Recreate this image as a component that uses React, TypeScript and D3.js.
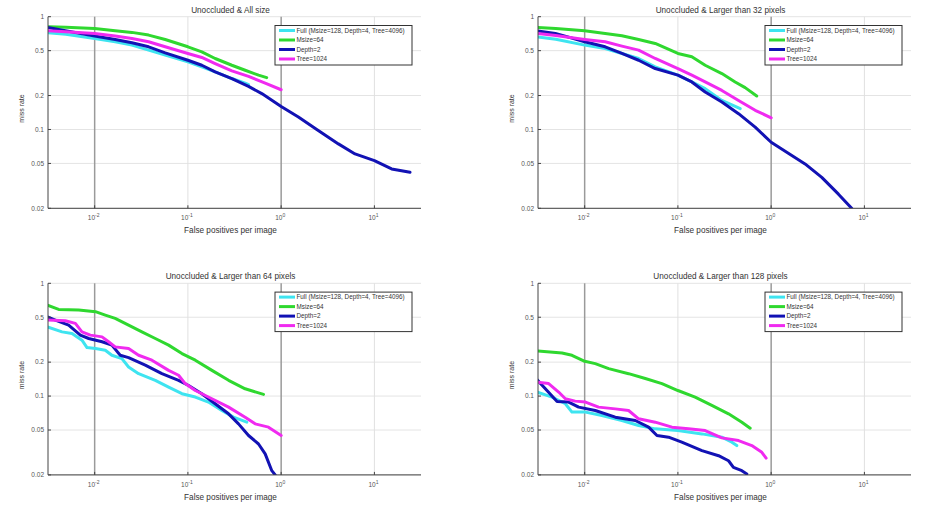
import React from "react";
import * as d3 from "d3";

type Pt = [number, number];

const TITLES = [
  "Unoccluded & All size",
  "Unoccluded & Larger than 32 pixels",
  "Unoccluded & Larger than 64 pixels",
  "Unoccluded & Larger than 128 pixels",
];
const SERIES_NAMES = ["Full (Msize=128, Depth=4, Tree=4096)", "Msize=64", "Depth=2", "Tree=1024"];
const SERIES_COLORS = ["#3ee4f0", "#2fd82f", "#1212b4", "#f02af0"];
const X_TICKS = [0.01, 0.1, 1, 10];
const X_TICK_EXPONENTS = ["-2", "-1", "0", "1"];
const Y_TICKS = [1, 0.5, 0.2, 0.1, 0.05, 0.02];
const Y_TICK_LABELS = ["1", "0.5", "0.2", "0.1", "0.05", "0.02"];
const X_DOMAIN = [0.00316, 31.6];
const Y_DOMAIN = [0.02, 1];
const X_LABEL = "False positives per image";
const Y_LABEL = "miss rate";

// Panel 1: Unoccluded & All size
const full_all: Pt[] = [[0.00308, 0.721], [0.0049, 0.70], [0.01, 0.641], [0.0166, 0.599], [0.0251, 0.56], [0.0379, 0.505], [0.0571, 0.456], [0.1, 0.398], [0.141, 0.359], [0.196, 0.324], [0.296, 0.283], [0.411, 0.258], [0.447, 0.25]];
const msize_all: Pt[] = [[0.00308, 0.815], [0.0049, 0.805], [0.01, 0.787], [0.0166, 0.75], [0.0251, 0.726], [0.0379, 0.687], [0.0571, 0.628], [0.1, 0.541], [0.141, 0.488], [0.196, 0.426], [0.296, 0.371], [0.411, 0.335], [0.572, 0.303], [0.70, 0.288]];
const depth_all: Pt[] = [[0.00308, 0.804], [0.00485, 0.75], [0.01, 0.673], [0.0166, 0.628], [0.0251, 0.587], [0.0379, 0.541], [0.0571, 0.478], [0.1, 0.411], [0.141, 0.371], [0.196, 0.324], [0.296, 0.283], [0.447, 0.241], [0.62, 0.208], [1.0, 0.160], [1.53, 0.129], [2.41, 0.1], [4.11, 0.0745], [6.2, 0.0607], [10, 0.053], [15.3, 0.0447], [24.1, 0.0417]];
const tree_all: Pt[] = [[0.00308, 0.75], [0.0049, 0.735], [0.01, 0.711], [0.0166, 0.673], [0.0251, 0.641], [0.0379, 0.599], [0.0571, 0.541], [0.1, 0.472], [0.141, 0.435], [0.196, 0.384], [0.296, 0.331], [0.447, 0.296], [0.674, 0.258], [1.0, 0.225]];

// Panel 2: Unoccluded & Larger than 32 pixels
const full_32: Pt[] = [[0.00308, 0.664], [0.0049, 0.63], [0.01, 0.56], [0.0166, 0.523], [0.0251, 0.472], [0.0379, 0.426], [0.0571, 0.359], [0.1, 0.303], [0.141, 0.264], [0.196, 0.23], [0.296, 0.181], [0.466, 0.153]];
const msize_32: Pt[] = [[0.00308, 0.804], [0.0049, 0.785], [0.01, 0.75], [0.0166, 0.711], [0.0251, 0.677], [0.0379, 0.628], [0.0571, 0.579], [0.1, 0.472], [0.141, 0.441], [0.196, 0.371], [0.296, 0.313], [0.411, 0.264], [0.526, 0.235], [0.70, 0.198]];
const depth_32: Pt[] = [[0.00308, 0.75], [0.00485, 0.711], [0.01, 0.599], [0.0166, 0.541], [0.0251, 0.472], [0.0379, 0.411], [0.0571, 0.347], [0.1, 0.303], [0.141, 0.264], [0.196, 0.215], [0.296, 0.175], [0.447, 0.138], [0.674, 0.105], [1.0, 0.077], [2.31, 0.0495], [3.49, 0.0376], [5.27, 0.0267], [7.3, 0.02]];
const tree_32: Pt[] = [[0.00308, 0.711], [0.0049, 0.68], [0.01, 0.628], [0.0166, 0.599], [0.0251, 0.548], [0.0379, 0.505], [0.0571, 0.426], [0.1, 0.347], [0.141, 0.303], [0.196, 0.264], [0.296, 0.222], [0.447, 0.181], [0.674, 0.148], [1.0, 0.127]];

// Panel 3: Unoccluded & Larger than 64 pixels
const full_64: Pt[] = [[0.00308, 0.411], [0.00447, 0.371], [0.00572, 0.359], [0.00731, 0.313], [0.00828, 0.269], [0.0102, 0.264], [0.013, 0.255], [0.0153, 0.23], [0.0196, 0.215], [0.0231, 0.181], [0.0296, 0.158], [0.0447, 0.138], [0.0621, 0.12], [0.0863, 0.105], [0.12, 0.098], [0.166, 0.0885], [0.231, 0.0745], [0.308, 0.065], [0.428, 0.0587]];
const msize_64: Pt[] = [[0.00308, 0.641], [0.00411, 0.587], [0.00674, 0.579], [0.0102, 0.56], [0.013, 0.523], [0.0166, 0.488], [0.0231, 0.426], [0.0321, 0.371], [0.0447, 0.324], [0.0621, 0.283], [0.0863, 0.238], [0.12, 0.208], [0.181, 0.169], [0.273, 0.138], [0.411, 0.116], [0.647, 0.1035]];
const depth_64: Pt[] = [[0.00308, 0.505], [0.00379, 0.472], [0.00526, 0.426], [0.00702, 0.347], [0.00863, 0.324], [0.012, 0.303], [0.0153, 0.283], [0.0188, 0.23], [0.0231, 0.219], [0.0349, 0.188], [0.0526, 0.158], [0.0794, 0.138], [0.1017, 0.124], [0.141, 0.105], [0.196, 0.0855], [0.273, 0.0696], [0.349, 0.0567], [0.447, 0.0447], [0.572, 0.0376], [0.674, 0.0307], [0.794, 0.0218], [0.863, 0.02]];
const tree_64: Pt[] = [[0.00308, 0.472], [0.00485, 0.465], [0.00621, 0.441], [0.00731, 0.371], [0.00899, 0.347], [0.012, 0.335], [0.0141, 0.303], [0.0166, 0.273], [0.0231, 0.264], [0.0296, 0.23], [0.0411, 0.208], [0.0621, 0.169], [0.0794, 0.153], [0.0936, 0.129], [0.12, 0.112], [0.181, 0.0947], [0.273, 0.0798], [0.411, 0.065], [0.526, 0.0567], [0.731, 0.053], [1.0, 0.0447]];

// Panel 4: Unoccluded & Larger than 128 pixels
const full_128: Pt[] = [[0.00308, 0.1086], [0.00447, 0.098], [0.00621, 0.0855], [0.00731, 0.0721], [0.0102, 0.0721], [0.0153, 0.0673], [0.0251, 0.0607], [0.0379, 0.0548], [0.0571, 0.0512], [0.1, 0.0495], [0.181, 0.0462], [0.296, 0.0432], [0.379, 0.039], [0.428, 0.0364]];
const msize_128: Pt[] = [[0.00308, 0.252], [0.00572, 0.241], [0.00731, 0.23], [0.00976, 0.205], [0.013, 0.194], [0.0181, 0.175], [0.0296, 0.158], [0.0447, 0.143], [0.0674, 0.129], [0.1, 0.112], [0.153, 0.098], [0.231, 0.0826], [0.349, 0.0696], [0.485, 0.0587], [0.596, 0.0519]];
const depth_128: Pt[] = [[0.00308, 0.14], [0.00379, 0.116], [0.00506, 0.0897], [0.00674, 0.0885], [0.00863, 0.0798], [0.013, 0.0745], [0.0213, 0.065], [0.0349, 0.0607], [0.0485, 0.053], [0.0596, 0.0447], [0.0794, 0.0432], [0.11, 0.039], [0.181, 0.0328], [0.273, 0.0296], [0.349, 0.0267], [0.394, 0.0233], [0.485, 0.0218], [0.548, 0.0204]];
const tree_128: Pt[] = [[0.00308, 0.133], [0.00411, 0.129], [0.00526, 0.1086], [0.00621, 0.0947], [0.0079, 0.0902], [0.0102, 0.0885], [0.0141, 0.0798], [0.0213, 0.077], [0.0296, 0.0745], [0.0379, 0.0629], [0.0571, 0.0587], [0.0863, 0.053], [0.13, 0.0512], [0.196, 0.0495], [0.296, 0.0426], [0.447, 0.0403], [0.62, 0.0364], [0.794, 0.0317], [0.883, 0.0282]];

const PANEL_SERIES: Pt[][][] = [
  [full_all, msize_all, depth_all, tree_all],
  [full_32, msize_32, depth_32, tree_32],
  [full_64, msize_64, depth_64, tree_64],
  [full_128, msize_128, depth_128, tree_128],
];

const PANEL_ORIGINS: [number, number][] = [[48, 16.7], [538, 16.7], [48, 283.3], [538, 283.3]];
const PW = 373;
const PH = 191.6;
const FONT = "'Liberation Sans', Arial, sans-serif";

function Panel({ idx }: { idx: number }) {
  const [left, top] = PANEL_ORIGINS[idx];
  const x = d3.scaleLog().domain(X_DOMAIN).range([left, left + PW]);
  const y = d3.scaleLog().domain(Y_DOMAIN).range([top + PH, top]);
  const line = d3
    .line<Pt>()
    .x((d) => x(d[0]))
    .y((d) => y(d[1]));
  const clipId = `clip${idx}`;
  const cx = left + PW / 2 - 4;
  const lgL = left + 227;
  const lgT = top + 8.8;
  return (
    <g>
      <defs>
        <clipPath id={clipId}>
          <rect x={left} y={top - 2} width={PW} height={PH + 2} />
        </clipPath>
      </defs>
      {Y_TICKS.map((t) => (
        <line key={"hg" + t} x1={left} x2={left + PW} y1={y(t)} y2={y(t)} stroke="#e4e4e4" strokeWidth={1} />
      ))}
      {X_TICKS.map((t, i) => (
        <line
          key={"vg" + t}
          x1={x(t)}
          x2={x(t)}
          y1={top}
          y2={top + PH}
          stroke={i % 2 === 0 ? "#9a9a9a" : "#e0e0e0"}
          strokeWidth={i % 2 === 0 ? 1.5 : 1}
        />
      ))}
      <g clipPath={`url(#${clipId})`}>
        {PANEL_SERIES[idx].map((s, si) => (
          <path
            key={"s" + si}
            d={line(s) || ""}
            fill="none"
            stroke={SERIES_COLORS[si]}
            strokeWidth={3}
            strokeLinejoin="round"
            strokeLinecap="round"
          />
        ))}
      </g>
      <line x1={left} x2={left} y1={top} y2={top + PH} stroke="#444" strokeWidth={1} />
      <line x1={left} x2={left + PW} y1={top + PH} y2={top + PH} stroke="#444" strokeWidth={1} />
      {Y_TICKS.map((t, i) => (
        <g key={"yt" + t}>
          <line x1={left} x2={left + 3} y1={y(t)} y2={y(t)} stroke="#444" />
          <text x={left - 4} y={y(t)} dy="0.35em" textAnchor="end" fontSize={6.5} fill="#555" fontFamily={FONT}>
            {Y_TICK_LABELS[i]}
          </text>
        </g>
      ))}
      {X_TICKS.map((t, i) => (
        <g key={"xt" + t}>
          <line x1={x(t)} x2={x(t)} y1={top + PH} y2={top + PH - 3} stroke="#444" />
          <text x={x(t) - 1} y={top + PH + 12} textAnchor="middle" fontSize={6.5} fill="#555" fontFamily={FONT}>
            10
            <tspan dy={-3} fontSize={5}>
              {X_TICK_EXPONENTS[i]}
            </tspan>
          </text>
        </g>
      ))}
      <text x={cx} y={top - 4} textAnchor="middle" fontSize={8.2} fill="#333" fontFamily={FONT}>
        {TITLES[idx]}
      </text>
      <text x={cx} y={top + PH + 25} textAnchor="middle" fontSize={8.2} fill="#333" fontFamily={FONT}>
        {X_LABEL}
      </text>
      <text
        transform={`translate(${left - 24},${top + PH / 2 - 4}) rotate(-90)`}
        textAnchor="middle"
        fontSize={7}
        fill="#333"
        fontFamily={FONT}
      >
        {Y_LABEL}
      </text>
      <rect x={lgL} y={lgT} width={137} height={39.5} fill="#fff" stroke="#333" strokeWidth={1} />
      {SERIES_NAMES.map((n, si) => {
        const ry = lgT + 5 + si * 9.5;
        return (
          <g key={"lg" + si}>
            <line x1={lgL + 4} x2={lgL + 20} y1={ry} y2={ry} stroke={SERIES_COLORS[si]} strokeWidth={3} />
            <text x={lgL + 21.5} y={ry} dy="0.35em" fontSize={6.3} fill="#333" fontFamily={FONT}>
              {n}
            </text>
          </g>
        );
      })}
    </g>
  );
}

export default function App() {
  return (
    <svg
      width={946}
      height={512}
      style={{ position: "absolute", left: 0, top: 0, background: "#fff" }}
    >
      <rect x={0} y={0} width={946} height={512} fill="#fff" />
      {[0, 1, 2, 3].map((i) => (
        <Panel key={i} idx={i} />
      ))}
    </svg>
  );
}
